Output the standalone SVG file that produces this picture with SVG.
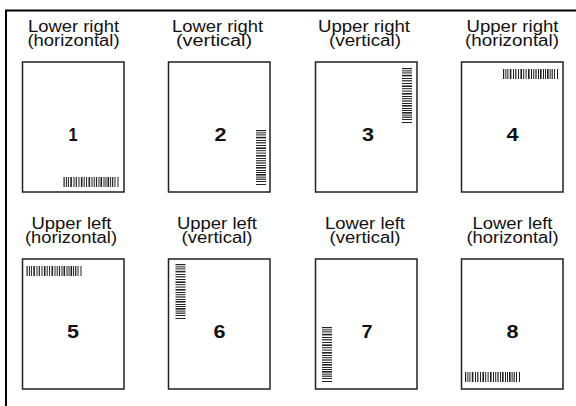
<svg xmlns="http://www.w3.org/2000/svg" xmlns:xlink="http://www.w3.org/1999/xlink" width="576" height="406" viewBox="0 0 576 406">
<style>
.lbl{font-family:"Liberation Sans",Arial,sans-serif;font-size:16px;fill:#111;text-anchor:middle}
.num{font-family:"Liberation Sans",Arial,sans-serif;font-size:18px;font-weight:bold;fill:#111;text-anchor:middle}
.page{fill:#fff;stroke:#222;stroke-width:1.5}
.frame{fill:none;stroke:#000;stroke-width:2}
</style>
<defs>
<g id="bc" fill="#222">
<rect x="0" y="0" width="1.2" height="10"/>
<rect x="2.4" y="0" width="1" height="10"/>
<rect x="4.4" y="0" width="1" height="10"/>
<rect x="6.8" y="0" width="1.6" height="10"/>
<rect x="10" y="0" width="1" height="10"/>
<rect x="12.2" y="0" width="1.2" height="10"/>
<rect x="15" y="0" width="1" height="10"/>
<rect x="17.4" y="0" width="1.6" height="10"/>
<rect x="20.2" y="0" width="1" height="10"/>
<rect x="22.6" y="0" width="1" height="10"/>
<rect x="25" y="0" width="1.6" height="10"/>
<rect x="28" y="0" width="1" height="10"/>
<rect x="30.2" y="0" width="1" height="10"/>
<rect x="32.4" y="0" width="1.2" height="10"/>
<rect x="35" y="0" width="1" height="10"/>
<rect x="37" y="0" width="1.6" height="10"/>
<rect x="40" y="0" width="1" height="10"/>
<rect x="42" y="0" width="1" height="10"/>
<rect x="44" y="0" width="1.6" height="10"/>
<rect x="46.6" y="0" width="1" height="10"/>
<rect x="48.6" y="0" width="1.2" height="10"/>
<rect x="51" y="0" width="1" height="10"/>
<rect x="54" y="0" width="1" height="10"/>
</g>
</defs>
<path class="frame" d="M6,406 V10.5 H576"/>
<g id="page1">
<text class="lbl" x="73.5" y="32" textLength="91" lengthAdjust="spacingAndGlyphs">Lower right</text>
<text class="lbl" x="73.5" y="46" textLength="92" lengthAdjust="spacingAndGlyphs">(horizontal)</text>
<rect class="page" x="22.5" y="62" width="101.5" height="130"/>
<text class="num" x="73" y="141" textLength="9" lengthAdjust="spacingAndGlyphs">1</text>
<use xlink:href="#bc" transform="translate(63.5,177)"/>
</g>
<g id="page2">
<text class="lbl" x="217.5" y="32" textLength="91" lengthAdjust="spacingAndGlyphs">Lower right</text>
<text class="lbl" x="214" y="46" textLength="76" lengthAdjust="spacingAndGlyphs">(vertical)</text>
<rect class="page" x="168.5" y="62" width="101.5" height="130"/>
<text class="num" x="220.5" y="141" textLength="12" lengthAdjust="spacingAndGlyphs">2</text>
<use xlink:href="#bc" transform="translate(266,130) rotate(90)"/>
</g>
<g id="page3">
<text class="lbl" x="364" y="32" textLength="92" lengthAdjust="spacingAndGlyphs">Upper right</text>
<text class="lbl" x="365" y="46" textLength="72" lengthAdjust="spacingAndGlyphs">(vertical)</text>
<rect class="page" x="315.5" y="62" width="101.5" height="130"/>
<text class="num" x="368" y="141" textLength="12" lengthAdjust="spacingAndGlyphs">3</text>
<use xlink:href="#bc" transform="translate(412,68) rotate(90)"/>
</g>
<g id="page4">
<text class="lbl" x="512.5" y="32" textLength="92" lengthAdjust="spacingAndGlyphs">Upper right</text>
<text class="lbl" x="512" y="46" textLength="94" lengthAdjust="spacingAndGlyphs">(horizontal)</text>
<rect class="page" x="461.5" y="62" width="101.5" height="130"/>
<text class="num" x="512.5" y="141" textLength="12" lengthAdjust="spacingAndGlyphs">4</text>
<use xlink:href="#bc" transform="translate(503,69)"/>
</g>
<g id="page5">
<text class="lbl" x="71.5" y="229" textLength="80" lengthAdjust="spacingAndGlyphs">Upper left</text>
<text class="lbl" x="71" y="243" textLength="92" lengthAdjust="spacingAndGlyphs">(horizontal)</text>
<rect class="page" x="22.5" y="259" width="101.5" height="130"/>
<text class="num" x="73" y="338" textLength="12" lengthAdjust="spacingAndGlyphs">5</text>
<use xlink:href="#bc" transform="translate(26.5,266)"/>
</g>
<g id="page6">
<text class="lbl" x="217" y="229" textLength="80" lengthAdjust="spacingAndGlyphs">Upper left</text>
<text class="lbl" x="217" y="243" textLength="71" lengthAdjust="spacingAndGlyphs">(vertical)</text>
<rect class="page" x="168.5" y="259" width="101.5" height="130"/>
<text class="num" x="219.5" y="338" textLength="12" lengthAdjust="spacingAndGlyphs">6</text>
<use xlink:href="#bc" transform="translate(185.5,264) rotate(90)"/>
</g>
<g id="page7">
<text class="lbl" x="365" y="229" textLength="80" lengthAdjust="spacingAndGlyphs">Lower left</text>
<text class="lbl" x="365" y="243" textLength="71" lengthAdjust="spacingAndGlyphs">(vertical)</text>
<rect class="page" x="315.5" y="259" width="101.5" height="130"/>
<text class="num" x="367" y="338" textLength="11" lengthAdjust="spacingAndGlyphs">7</text>
<use xlink:href="#bc" transform="translate(332,327) rotate(90)"/>
</g>
<g id="page8">
<text class="lbl" x="512.5" y="229" textLength="80" lengthAdjust="spacingAndGlyphs">Lower left</text>
<text class="lbl" x="512.5" y="243" textLength="92" lengthAdjust="spacingAndGlyphs">(horizontal)</text>
<rect class="page" x="461.5" y="259" width="101.5" height="130"/>
<text class="num" x="512.5" y="338" textLength="12" lengthAdjust="spacingAndGlyphs">8</text>
<use xlink:href="#bc" transform="translate(465,372)"/>
</g>
</svg>
